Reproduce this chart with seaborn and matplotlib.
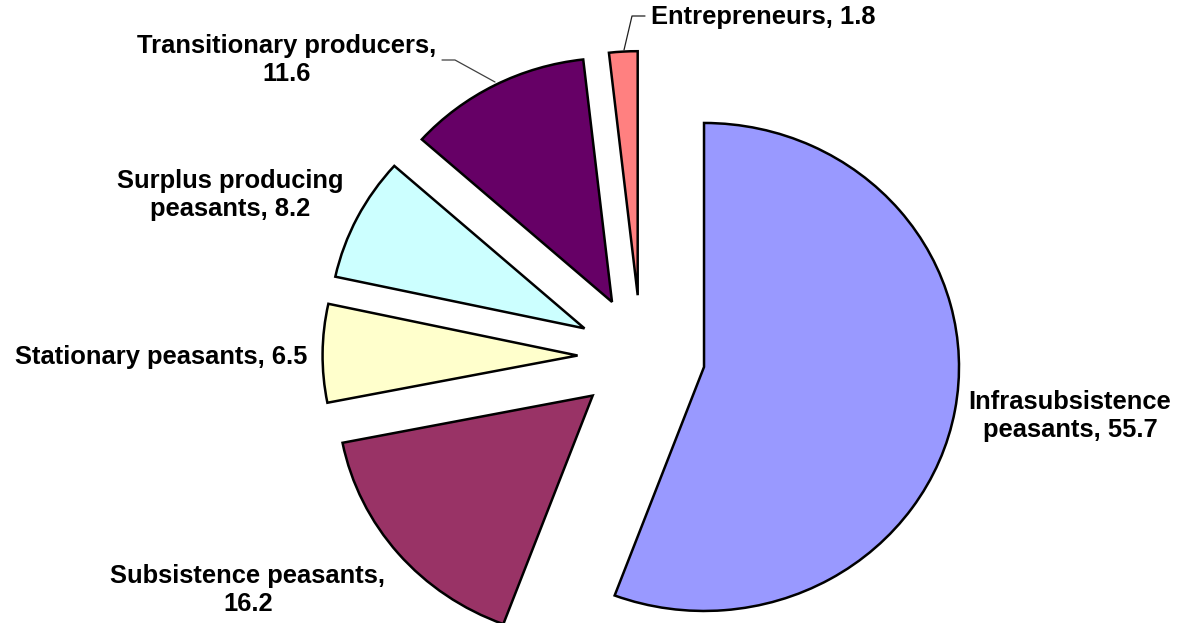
import matplotlib
matplotlib.use("Agg")
import matplotlib.pyplot as plt
import seaborn as sns

# Share of rural households by producer category (%)
categories = [
    "Infrasubsistence peasants",
    "Subsistence peasants",
    "Stationary peasants",
    "Surplus producing peasants",
    "Transitionary producers",
    "Entrepreneurs",
]
values = [55.7, 16.2, 6.5, 8.2, 11.6, 1.8]
label_texts = [
    "Infrasubsistence\npeasants, 55.7",
    "Subsistence peasants,\n16.2",
    "Stationary peasants, 6.5",
    "Surplus producing\npeasants, 8.2",
    "Transitionary producers,\n11.6",
    "Entrepreneurs, 1.8",
]
colors = ["#9999FF", "#993366", "#FFFFCC", "#CCFFFF", "#660066", "#FF8080"]

sns.set_style("white")
plt.rcParams["font.family"] = ["Liberation Sans", "DejaVu Sans"]

W, H = 1180, 623
SX = 1.045  # horizontal stretch of the pie

fig = plt.figure(figsize=(W / 100, H / 100), dpi=100)
ax = fig.add_axes([0, 0, 1, 1])


def pt(x, y):
    """Pixel position -> axes data position."""
    return x / SX, -y


cx, cy = pt(641.3, 356.1)
ax.pie(
    values,
    explode=[61] * len(values),
    startangle=90,
    counterclock=False,
    center=(cx, cy),
    radius=244,
    colors=colors,
    wedgeprops=dict(edgecolor="black", linewidth=1.8),
)
ax.set_aspect("auto")
ax.set_xlim(0, W / SX)
ax.set_ylim(-H, 0)
ax.axis("off")

# label anchor positions (centre of each text block)
label_pos = [
    (1070, 416),
    (248, 590),
    (161, 357),
    (230, 195),
    (287, 60),
    (763, 17),
]
for txt, (lx, ly) in zip(label_texts, label_pos):
    x, y = pt(lx, ly)
    ax.text(x, y, txt, ha="center", va="center", multialignment="center",
            fontsize=18.4, fontweight="bold", color="black", linespacing=1.2)

# leader lines for the two top labels
leaders = [
    ([645, 632, 624], [16, 16, 50], "#202020"),
    ([442, 455, 495], [60, 60, 82], "#404040"),
]
for xs, ys, c in leaders:
    px = [pt(a, b)[0] for a, b in zip(xs, ys)]
    py = [pt(a, b)[1] for a, b in zip(xs, ys)]
    ax.plot(px, py, color=c, linewidth=0.9)

fig.savefig("out.png", dpi=100)
